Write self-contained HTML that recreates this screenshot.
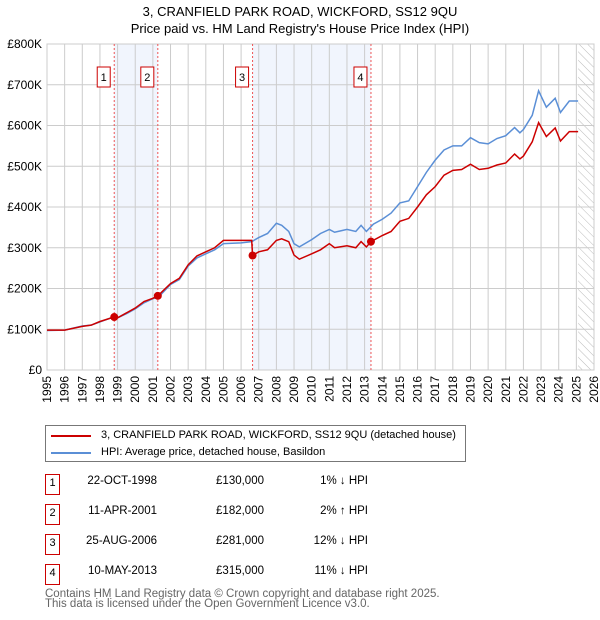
<!DOCTYPE html>
<html><head><meta charset="utf-8"><style>
body{margin:0;background:#fff;font-family:"Liberation Sans","DejaVu Sans",sans-serif;}
#wrap{position:relative;width:600px;height:620px;overflow:hidden;}
.t{position:absolute;font-size:12px;color:#000;white-space:nowrap;}
</style></head><body>
<div id="wrap">
<svg id="chart" width="600" height="420" style="position:absolute;left:0;top:0">
<defs><pattern id="hatch" width="6" height="6" patternUnits="userSpaceOnUse" patternTransform="rotate(-45)"><line x1="0" y1="0" x2="0" y2="6" stroke="#bbb" stroke-width="1"/></pattern></defs>
<text x="300" y="16" text-anchor="middle" font-size="13">3, CRANFIELD PARK ROAD, WICKFORD, SS12 9QU</text>
<text x="300" y="33" text-anchor="middle" font-size="13">Price paid vs. HM Land Registry's House Price Index (HPI)</text>
<g id="g"></g>
</svg>
<div style="position:absolute;left:45px;top:425px;width:419px;height:35px;border:1px solid #777;">
<div style="position:absolute;left:5px;top:9px;width:40px;height:2px;background:#cc0000"></div>
<div class="t" style="left:55px;top:3px;font-size:11px">3, CRANFIELD PARK ROAD, WICKFORD, SS12 9QU (detached house)</div>
<div style="position:absolute;left:5px;top:26px;width:40px;height:2px;background:#5b8fd6"></div>
<div class="t" style="left:55px;top:20px;font-size:11px">HPI: Average price, detached house, Basildon</div>
</div>
<div id="tbl"></div>
<div class="t" style="left:45px;top:589px;color:#666;line-height:10px;font-size:11.5px">Contains HM Land Registry data © Crown copyright and database right 2025.<br>This data is licensed under the Open Government Licence v3.0.</div>
</div>
<script>
const hpiYears=[1995,1996,1997,1997.5,1998,1998.8,1999,1999.5,2000,2000.5,2001,2001.3,2002,2002.5,2003,2003.5,2004,2004.5,2005,2006,2006.6,2007,2007.5,2008,2008.3,2008.7,2009,2009.3,2010,2010.5,2011,2011.3,2011.7,2012,2012.5,2012.8,2013.1,2013.5,2014,2014.5,2015,2015.5,2016,2016.5,2017,2017.5,2018,2018.5,2019,2019.5,2020,2020.5,2021,2021.5,2021.8,2022,2022.5,2022.86,2023.3,2023.8,2024.1,2024.6,2025.1];
const hpiValues=[97,98,108,110,118,131,128,138,150,165,175,178,210,222,255,275,285,295,310,312,315,325,335,360,355,340,310,302,320,335,345,338,342,345,340,355,340,358,370,385,410,415,450,485,515,540,550,550,570,558,555,568,575,595,582,590,625,685,645,667,632,660,660];
const ppYears=[1995,1996,1997,1997.5,1998,1998.8,1999,1999.5,2000,2000.5,2001,2001.28,2002,2002.5,2003,2003.5,2004,2004.5,2005,2006,2006.6,2006.65,2007,2007.5,2008,2008.3,2008.7,2009,2009.3,2010,2010.5,2011,2011.3,2012,2012.5,2012.8,2013.1,2013.36,2014,2014.5,2015,2015.5,2016,2016.5,2017,2017.5,2018,2018.5,2019,2019.5,2020,2020.5,2021,2021.5,2021.8,2022,2022.5,2022.86,2023.3,2023.8,2024.1,2024.6,2025.1];
const ppValues=[98,98,107,110,119,130,128,140,152,168,176,182,212,225,258,280,290,300,318,318,318,281,290,295,318,322,315,282,272,285,295,310,300,305,300,315,302,315,330,340,365,372,400,430,450,478,490,492,505,492,495,503,508,530,518,525,560,607,573,594,562,585,585];
const saleYears=[1998.81,2001.28,2006.65,2013.36];
const saleValues=[130,182,281,315];
const saleLabels=["1","2","3","4"];
const saleDates=["22-OCT-1998","11-APR-2001","25-AUG-2006","10-MAY-2013"];
const salePrices=["£130,000","£182,000","£281,000","£315,000"];
const saleHpi=["1% ↓ HPI","2% ↑ HPI","12% ↓ HPI","11% ↓ HPI"];
const yTicks=[0,100,200,300,400,500,600,700,800];
const yTickLabels=["£0","£100K","£200K","£300K","£400K","£500K","£600K","£700K","£800K"];
const xTicks=[];for(let y=1995;y<=2026;y++)xTicks.push(y);
const X0=47,X1=594,Y0=370,Y1=44;
const xs=y=>X0+(y-1995)/(2026-1995)*(X1-X0);
const ys=v=>Y0-v/800*(Y0-Y1);
const NS="http://www.w3.org/2000/svg";
const g=document.getElementById('g');
function mk(t,a){const e=document.createElementNS(NS,t);for(const k in a)e.setAttribute(k,a[k]);g.appendChild(e);return e;}
let e;
e=mk('rect',{x:X0,y:Y1,width:X1-X0,height:Y0-Y1,fill:'#fff',stroke:'#ccc'});


for(const [a,b] of [[saleYears[0],saleYears[1]],[saleYears[2],saleYears[3]]]){
 e=mk('rect',{x:xs(a),y:Y1,width:xs(b)-xs(a),height:Y0-Y1,fill:'#eef3fd',opacity:0.8});
 
 
}
e=mk('rect',{x:xs(2025.1),y:Y1,width:X1-xs(2025.1),height:Y0-Y1,fill:'url(#hatch)'});


xTicks.forEach(t=>{
 e=mk('line',{x1:xs(t),x2:xs(t),y1:Y1,y2:Y0,stroke:'#ccc'});
 
 
 e=mk('text',{x:0,y:0,'font-size':12,'text-anchor':'end',transform:`translate(${xs(t)+4},${Y0+6}) rotate(-90)`});
 e.textContent=t;
 
 
});
yTicks.forEach((t,i)=>{
 e=mk('line',{x1:X0,x2:X1,y1:ys(t),y2:ys(t),stroke:'#ccc'});
 
 
 e=mk('text',{x:X0-5,y:ys(t)+4,'font-size':12,'text-anchor':'end'});
 e.textContent=yTickLabels[i];
 
 
});
saleYears.forEach((y,i)=>{
 e=mk('line',{x1:xs(y),x2:xs(y),y1:Y1,y2:Y0,stroke:'#e55',"stroke-dasharray":'2,2'});
 
 
});
function line(xa,va,col,name){
 e=mk('polyline',{points:xa.map((x,i)=>xs(x)+','+ys(va[i])).join(' '),fill:'none',stroke:col,'stroke-width':1.5});
 
 
}
line(hpiYears,hpiValues,'#5b8fd6','hpi-line');
line(ppYears,ppValues,'#cc0000','price-paid-line');
saleYears.forEach((y,i)=>{
 e=mk('circle',{cx:xs(y),cy:ys(saleValues[i]),r:4,fill:'#cc0000'});
 
 
 e=mk('rect',{x:xs(y)-17,y:67,width:13,height:20,fill:'#fff',stroke:'#cc0000'});
 
 
 e=mk('text',{x:xs(y)-10.5,y:81,'font-size':11,'text-anchor':'middle'});
 e.textContent=saleLabels[i];
 
 
});
const tbl=document.getElementById('tbl');
saleLabels.forEach((l,i)=>{
 const top=474+i*30;
 const row=document.createElement('div');
 
 
 row.innerHTML=`<div style="position:absolute;left:45px;top:${top}px;width:13px;height:19px;border:1px solid #cc0000;font-size:11px;text-align:center;line-height:17px">${l}</div>
<div class="t" style="left:60px;width:97px;text-align:right;top:${top+1}px;font-size:11.5px">${saleDates[i]}</div>
<div class="t" style="left:180px;width:84px;text-align:right;top:${top+1}px;font-size:11.5px">${salePrices[i]}</div>
<div class="t" style="left:280px;width:88px;text-align:right;top:${top+1}px;font-size:11.5px">${saleHpi[i]}</div>`;
 tbl.appendChild(row);
});
</script>
</body></html>
